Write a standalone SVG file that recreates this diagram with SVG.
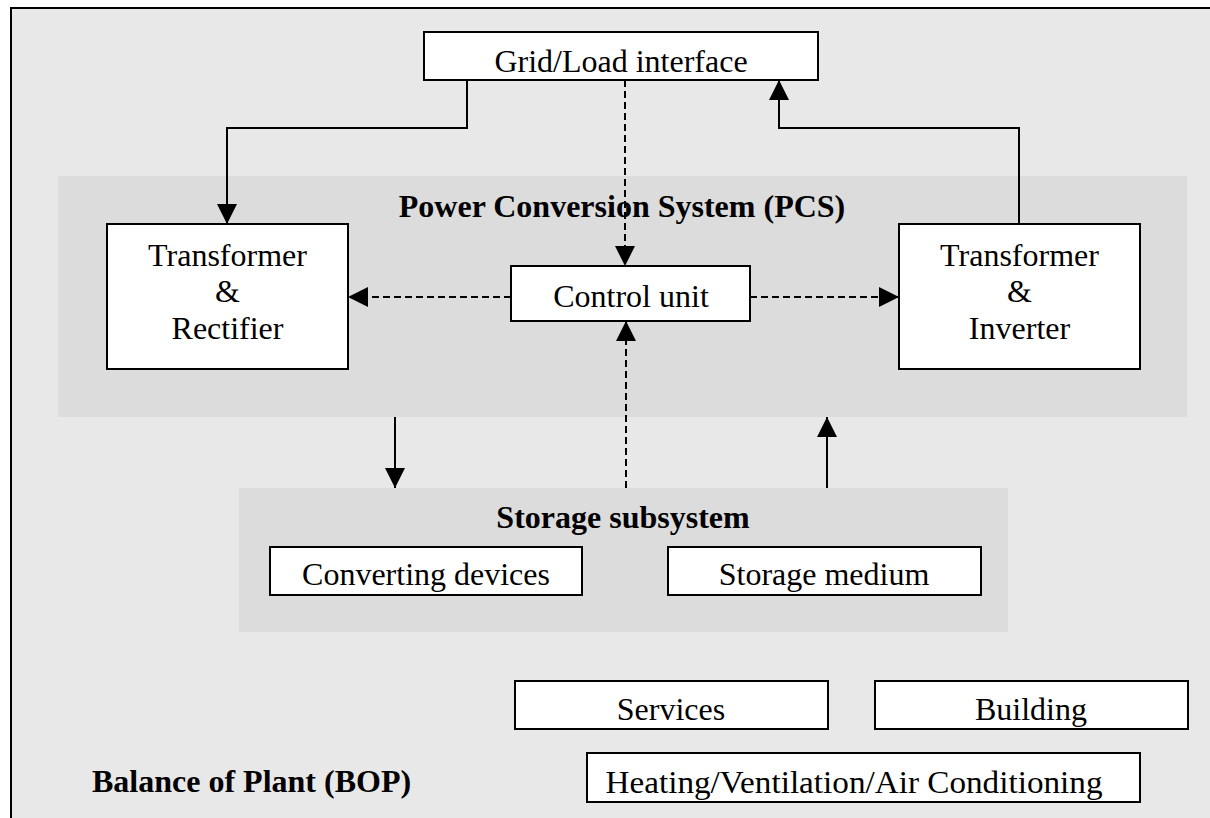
<svg xmlns="http://www.w3.org/2000/svg" width="1210" height="818" viewBox="0 0 1210 818">
  <style>
    .box { fill: #ffffff; stroke: #000000; stroke-width: 2; }
    .zone { fill: #dcdcdc; stroke: none; }
    .lbl { font-family: "Liberation Serif", "Times New Roman", serif; font-size: 32px; fill: #000000; text-anchor: middle; }
    .title { font-family: "Liberation Serif", "Times New Roman", serif; font-size: 32px; font-weight: bold; fill: #000000; }
    .wire { fill: none; stroke: #000000; stroke-width: 2; }
    .dash { fill: none; stroke: #000000; stroke-width: 2; stroke-dasharray: 7 4; }
  </style>
  <defs>
    <marker id="head" viewBox="0 0 20 20" refX="20" refY="10" markerWidth="20" markerHeight="20" markerUnits="userSpaceOnUse" orient="auto">
      <path d="M0,0 L20,10 L0,20 Z" fill="#000000"/>
    </marker>
  </defs>

  <!-- page background and frame -->
  <rect x="0" y="0" width="1210" height="818" fill="#ffffff"/>
  <rect x="11" y="8" width="1210" height="830" fill="#e8e8e8" stroke="#000000" stroke-width="2"/>

  <!-- subsystem zones -->
  <g id="pcs">
    <rect class="zone" x="58" y="176" width="1129" height="241"/>
    <text class="title" x="622" y="217" text-anchor="middle">Power Conversion System (PCS)</text>
  </g>
  <g id="storage">
    <rect class="zone" x="239" y="488" width="769" height="144"/>
    <text class="title" x="623" y="528" text-anchor="middle">Storage subsystem</text>
  </g>
  <g id="bop">
    <text class="title" x="92" y="792">Balance of Plant (BOP)</text>
  </g>

  <!-- connectors -->
  <g id="connectors">
    <path class="wire" d="M467,80 V128 H227 V224" marker-end="url(#head)"/>
    <path class="wire" d="M1019,224 V128 H779 V80" marker-end="url(#head)"/>
    <path class="dash" d="M625,80 V266" marker-end="url(#head)"/>
    <path class="dash" d="M511,297 H348" marker-end="url(#head)"/>
    <path class="dash" d="M750,297 H899" marker-end="url(#head)"/>
    <path class="dash" d="M626,488 V321" marker-end="url(#head)"/>
    <path class="wire" d="M395,417 V488" marker-end="url(#head)"/>
    <path class="wire" d="M827,488 V417" marker-end="url(#head)"/>
  </g>

  <!-- nodes -->
  <g id="grid-load">
    <rect class="box" x="424" y="32" width="394" height="48"/>
    <text class="lbl" x="621" y="72">Grid/Load interface</text>
  </g>
  <g id="rectifier">
    <rect class="box" x="107" y="224" width="241" height="145"/>
    <text class="lbl" x="227.5" y="266">Transformer</text>
    <text class="lbl" x="227.5" y="302">&amp;</text>
    <text class="lbl" x="227.5" y="339">Rectifier</text>
  </g>
  <g id="control-unit">
    <rect class="box" x="511" y="266" width="239" height="55"/>
    <text class="lbl" x="631" y="307">Control unit</text>
  </g>
  <g id="inverter">
    <rect class="box" x="899" y="224" width="241" height="145"/>
    <text class="lbl" x="1019.5" y="266">Transformer</text>
    <text class="lbl" x="1019.5" y="302">&amp;</text>
    <text class="lbl" x="1019.5" y="339">Inverter</text>
  </g>
  <g id="converting-devices">
    <rect class="box" x="270" y="547" width="312" height="48"/>
    <text class="lbl" x="426" y="585">Converting devices</text>
  </g>
  <g id="storage-medium">
    <rect class="box" x="668" y="547" width="313" height="48"/>
    <text class="lbl" x="824" y="585">Storage medium</text>
  </g>
  <g id="services">
    <rect class="box" x="515" y="681" width="313" height="48"/>
    <text class="lbl" x="671" y="720">Services</text>
  </g>
  <g id="building">
    <rect class="box" x="875" y="681" width="313" height="48"/>
    <text class="lbl" x="1031" y="720">Building</text>
  </g>
  <g id="hvac">
    <rect class="box" x="587" y="753" width="553" height="49"/>
    <text class="lbl" x="854" y="793" textLength="497" lengthAdjust="spacingAndGlyphs">Heating/Ventilation/Air Conditioning</text>
  </g>
</svg>
